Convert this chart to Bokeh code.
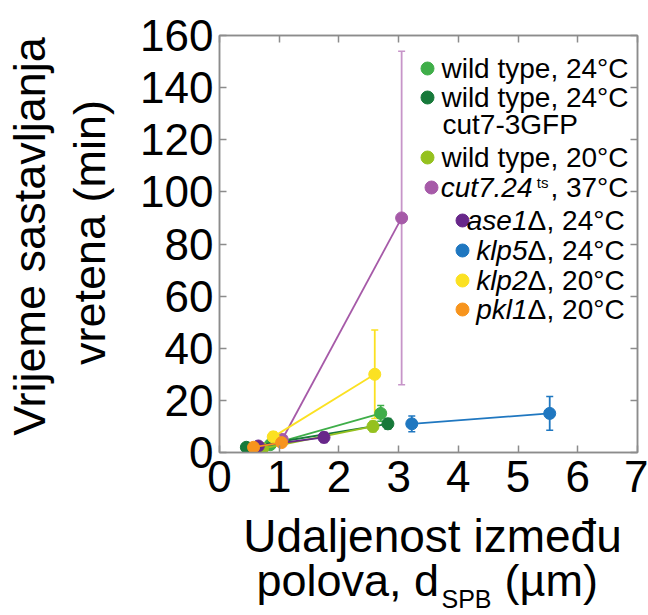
import math
from bokeh.plotting import figure
from bokeh.layouts import row, column
from bokeh.models import (Range1d, LinearAxis, Whisker, TeeHead, ColumnDataSource,
                          FixedTicker, CustomJSTickFormatter)
from bokeh.embed import file_html
from bokeh.resources import INLINE
from bokeh.core.properties import value

# ---------------- data ----------------
x_ticks = [0, 1, 2, 3, 4, 5, 6, 7]
y_ticks = [0, 20, 40, 60, 80, 100, 120, 140, 160]

wt24_x = [0.85, 2.70]
wt24_y = [3.0, 15.0]
wt24_err = [1.0, 3.0]

wt24c_x = [0.45, 2.82]
wt24c_y = [2.0, 11.0]
wt24c_err = [1.0, 2.0]

wt20_x = [0.72, 2.57]
wt20_y = [1.5, 10.0]
wt20_err = [1.0, 2.0]

cut7_x = [1.05, 3.05]
cut7_y = [5.0, 90.0]
cut7_err = [2.0, 64.0]

ase1_x = [0.65, 1.75]
ase1_y = [2.5, 5.8]
ase1_err = [1.0, 2.0]

klp5_x = [3.22, 5.53]
klp5_y = [11.0, 15.0]
klp5_err = [3.0, 6.5]

klp2_x = [0.90, 2.60]
klp2_y = [6.0, 30.0]
klp2_err = [2.0, 17.0]

pkl1_x = [0.57, 1.04]
pkl1_y = [2.0, 3.8]
pkl1_err = [1.0, 1.5]

C_WT24 = "#3fae49"
C_WT24C = "#17793a"
C_WT20 = "#95c11f"
C_CUT7 = "#a65aa8"
C_CUT7_ERR = "#c795c9"
C_ASE1 = "#68278a"
C_KLP5 = "#1f77c0"
C_KLP2 = "#fbe122"
C_PKL1 = "#f7941d"

FONT = "Liberation Sans"
GRAY = "#8c8c8c"

# ---------------- layout geometry (canvas pixels) ----------------
W, H = 648, 615
LEFT_W = 120           # strip that holds the y-axis title
FL, FR, FT, FB = 219, 637, 35, 452   # frame edges
MAIN_B = 58            # room under the frame for the tick labels
MAIN_H = FB + MAIN_B
X0, X1, Y0, Y1 = 0, 7, 0, 160
MID = 0.39             # "middle" anchor sits this many em above the baseline

p = figure(frame_width=FR - FL, frame_height=FB - FT, title=None,
           min_border_left=FL - LEFT_W, min_border_right=W - FR,
           min_border_top=FT, min_border_bottom=MAIN_B,
           x_range=Range1d(X0, X1), y_range=Range1d(Y0, Y1),
           output_backend="svg", toolbar_location=None,
           background_fill_color="white", border_fill_color="white")
p.xgrid.visible = False
p.ygrid.visible = False
p.outline_line_color = GRAY
p.outline_line_width = 1.5


def dx(px):
    return X0 + (px - FL) / (FR - FL) * (X1 - X0)


def dy(py):
    return Y0 + (FB - py) / (FB - FT) * (Y1 - Y0)


blank = CustomJSTickFormatter(code="return ''")
p.add_layout(LinearAxis(formatter=blank), "right")
p.add_layout(LinearAxis(formatter=blank), "above")

for ax in p.xaxis:
    ax.ticker = FixedTicker(ticks=x_ticks)
for ax in p.yaxis:
    ax.ticker = FixedTicker(ticks=y_ticks)

for ax in p.axis:
    ax.axis_line_color = GRAY
    ax.axis_line_width = 1.5
    ax.major_tick_line_color = GRAY
    ax.major_tick_line_width = 1.5
    ax.major_tick_in = 7
    ax.major_tick_out = 0
    ax.minor_tick_line_color = None
    ax.major_label_text_font = FONT
    ax.major_label_text_font_size = "44px"
    ax.major_label_text_color = "black"
    ax.axis_label = None

p.below[0].major_label_standoff = 8
p.left[0].major_label_standoff = 6

# ---------------- series ----------------
series = [
    (wt24_x, wt24_y, wt24_err, C_WT24, C_WT24),
    (wt24c_x, wt24c_y, wt24c_err, C_WT24C, C_WT24C),
    (wt20_x, wt20_y, wt20_err, C_WT20, C_WT20),
    (cut7_x, cut7_y, cut7_err, C_CUT7, C_CUT7_ERR),
    (ase1_x, ase1_y, ase1_err, C_ASE1, C_ASE1),
    (klp5_x, klp5_y, klp5_err, C_KLP5, C_KLP5),
    (klp2_x, klp2_y, klp2_err, C_KLP2, C_KLP2),
    (pkl1_x, pkl1_y, pkl1_err, C_PKL1, C_PKL1),
]

for xs, ys, es, col, ecol in series:
    src = ColumnDataSource(dict(x=xs, y=ys,
                                lo=[a - b for a, b in zip(ys, es)],
                                hi=[a + b for a, b in zip(ys, es)]))
    p.add_layout(Whisker(source=src, base="x", lower="lo", upper="hi",
                         line_color=ecol, line_width=1.8,
                         lower_head=TeeHead(size=7, line_color=ecol, line_width=1.5),
                         upper_head=TeeHead(size=7, line_color=ecol, line_width=1.5)))
    p.line("x", "y", source=src, line_color=col, line_width=1.8)
    p.scatter("x", "y", source=src, size=12, fill_color=col, line_color=col)

# ---------------- legend (manual, to allow italics) ----------------
LEG_FS = "28px"
R_EDGE = 628


def leg_text(px, py, txt, align="left", style="normal", size=LEG_FS):
    p.text(x=[dx(px)], y=[dy(py)], text=[txt], text_font=value(FONT),
           text_font_size=size, text_align=align, text_baseline="middle",
           text_font_style=style, text_color="black")


def leg_dot(px, py, col):
    p.scatter(x=[dx(px)], y=[dy(py)], size=13, fill_color=col, line_color=col)


leg_dot(427, 68, C_WT24)
leg_text(R_EDGE, 68, "wild type, 24°C", align="right")

leg_dot(427, 97, C_WT24C)
leg_text(R_EDGE, 97, "wild type, 24°C", align="right")
leg_text(442, 124, "cut7-3GFP")

leg_dot(427, 157, C_WT20)
leg_text(R_EDGE, 157, "wild type, 20°C", align="right")

leg_dot(431, 187, C_CUT7)
leg_text(R_EDGE, 187, ", 37°C", align="right")
leg_text(548, 182, "ts", align="right", size="15px")
leg_text(532, 187, "cut7.24", align="right", style="italic")

for py, col, name, temp in [(220, C_ASE1, "ase1", "24°C"),
                            (250, C_KLP5, "klp5", "24°C"),
                            (280, C_KLP2, "klp2", "20°C"),
                            (309, C_PKL1, "pkl1", "20°C")]:
    leg_dot(462, py, col)
    leg_text(527, py, name, align="right", style="italic")
    leg_text(527, py, "Δ", align="left")
    leg_text(546, py, ", " + temp, align="left")

# ---------------- axis titles (strips beside the plot, as real text) ----------------
def strip(width, frame_h, top_b, bot_b):
    f = figure(frame_width=width, frame_height=frame_h, title=None,
               min_border_left=0, min_border_right=0,
               min_border_top=top_b, min_border_bottom=bot_b,
               x_range=Range1d(0, width), y_range=Range1d(0, frame_h),
               x_axis_type=None, y_axis_type=None,
               output_backend="svg", toolbar_location=None,
               background_fill_color="white", border_fill_color="white")
    f.outline_line_color = None
    return f


def strip_text(f, px, base_py, frame_bottom, txt, size, align="center", angle=0.0):
    # base_py: canvas position of the text baseline (y for flat text, x for rotated)
    if angle == 0.0:
        x, y = px, frame_bottom - (base_py - MID * size)
    else:
        x, y = base_py - MID * size, frame_bottom - px
    f.text(x=[x], y=[y], text=[txt], angle=angle, text_align=align,
           text_baseline="middle", text_font=value(FONT),
           text_font_size=f"{size}px", text_color="black")


# left strip: its frame is aligned with the main frame (canvas y 35..452)
left = strip(LEFT_W, FB - FT, FT, MAIN_B)
strip_text(left, 236, 47, FB, "Vrijeme sastavljanja", 45, angle=math.pi / 2)
strip_text(left, 232, 107, FB, "vretena (min)", 45, angle=math.pi / 2)

# bottom strip: canvas y MAIN_H..H
bottom = strip(W, H - MAIN_H, 0, 0)
strip_text(bottom, 432, 553, H, "Udaljenost između", 46)
strip_text(bottom, 256, 598, H, "polova, d", 45, align="left")
strip_text(bottom, 441, 608, H, "SPB", 25, align="left")
strip_text(bottom, 504, 598, H, "(µm)", 45, align="left")

layout = column(row(left, p, spacing=0), bottom, spacing=0)

open("out.html", "w").write(file_html(layout, INLINE))
